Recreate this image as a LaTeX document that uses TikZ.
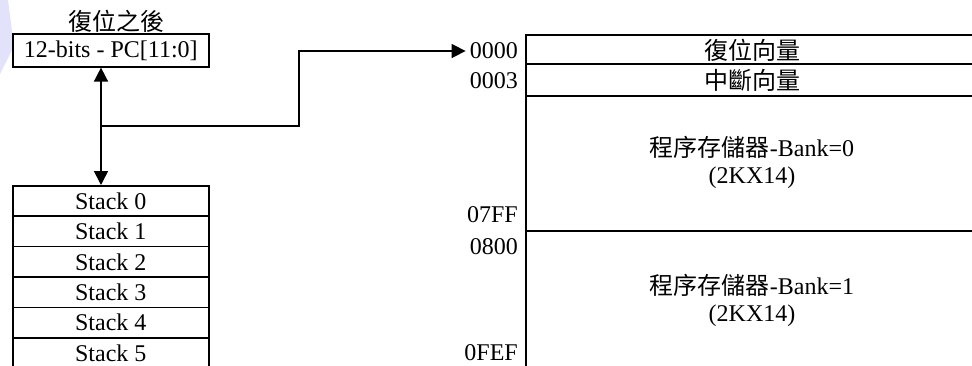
\documentclass[tikz,border=0pt]{standalone}
\usepackage{fontspec}
\setmainfont{Liberation Serif}
\newfontfamily\cjk{Noto Sans CJK TC}
\usetikzlibrary{arrows.meta}
\definecolor{wmark}{RGB}{226,226,250}
\begin{document}
\begin{tikzpicture}[x=1pt,y=-1pt,
  every node/.style={font=\fontsize{24}{26}\selectfont, inner sep=0pt},
  cell/.style={draw, line width=1.6pt, minimum width=196pt, minimum height=30.4pt, anchor=north west},
  addr/.style={anchor=east},
  line/.style={line width=1.6pt},
  arr/.style={line width=1.6pt, -{Triangle[length=14pt,width=14pt]}}]
\useasboundingbox (0,0) rectangle (972,365);

% faint logo fragment at the corner
\fill[wmark] (0,0) -- (8,0) -- (14,46) -- (0,74) -- cycle;

% program counter
\node[cell, minimum height=33pt] (pc) at (12,33) {12-bits - PC[11:0]};
\node (pclabel) at (116,21) {\cjk 復位之後};

% stack levels
\foreach \i in {0,...,5}{
  \node[cell] (s\i) at (12,185+30.4*\i) {Stack \i};
}

% program memory map
\draw[line] (526,370) -- (526,35) -- (975,35);
\draw[line] (526,64) -- (975,64);
\draw[line] (526,96) -- (975,96);
\draw[line] (526,231) -- (975,231);

\node (rst) at (752,50) {\cjk 復位向量};
\node (irq) at (752,80) {\cjk 中斷向量};
\node[align=center] (bank0) at (752,162) {{\cjk 程序存儲器}-Bank=0\\[1pt](2KX14)};
\node[align=center] (bank1) at (752,300) {{\cjk 程序存儲器}-Bank=1\\[1pt](2KX14)};

\node[addr] (a0000) at (518,51) {0000};
\node[addr] (a0003) at (518,81) {0003};
\node[addr] (a07ff) at (518,215) {07FF};
\node[addr] (a0800) at (518,247) {0800};
\node[addr] (a0fef) at (518,353) {0FEF};

% connections
\coordinate (j) at (101,126);
\coordinate (bend) at (299,126);
\draw[arr] (j) -- (j |- pc.south);
\draw[arr] (j) -- (j |- s0.north);
\draw[arr] (j) -- (bend) -- (bend |- a0000.west) -- ([xshift=-4pt]a0000.west);
\end{tikzpicture}
\end{document}
